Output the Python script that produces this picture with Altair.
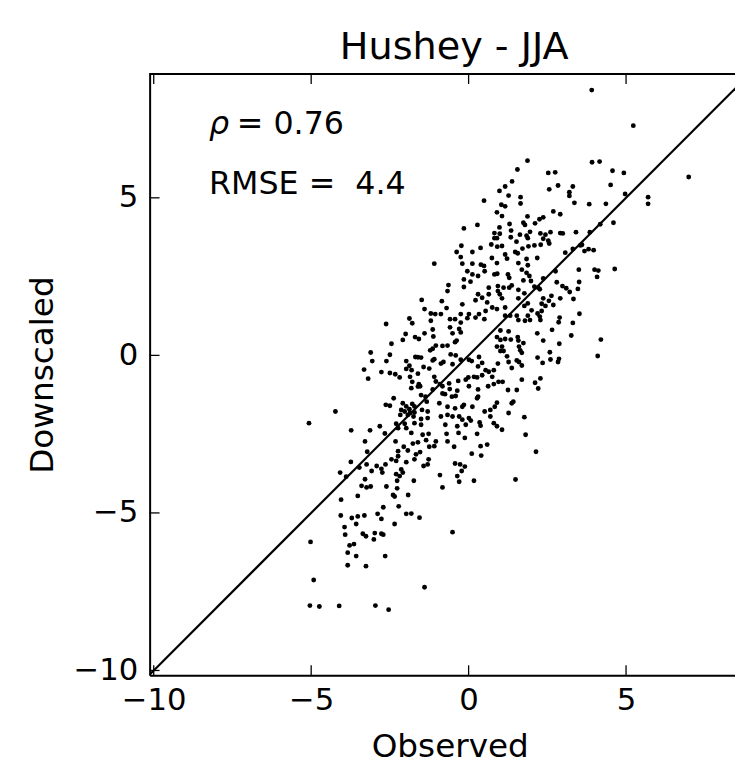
import altair as alt
import pandas as pd

# Observed (x) and Downscaled (y) values
obs = [
 0.49,-0.15,0.28,-0.23,-0.38,-0.25,0.12,0.38,0.72,0.82,0.82,0.74,
 3.91,5.23,6.99,1.87,1.55,3.92,4.16,2.53,2.75,4.57,4.93,1.38,0.98,1.16,1.27,2.84,2.56,3.31,3.2,3.2,
 4.51,4.97,5.70,5.70,1.65,1.65,3.36,3.83,4.36,1.04,1.16,0.90,1.06,2.69,2.91,1.87,2.37,2.25,0.98,1.30,
 1.74,1.79,2.11,4.18,4.60,3.85,3.41,2.91,2.99,2.6,2.28,2.44,1.95,1.35,0.99,0.90,1.34,1.63,1.84,1.88,
 2.37,2.53,2.56,2.29,2.09,1.9,1.52,1.06,0.91,1.71,1.48,1.56,1.16,1.22,1.84,2.18,3.07,3.31,3.55,3.6,
 3.68,3.81,3.97,
 -1.09,-0.2,0.12,0.39,0.49,-0.04,0.12,0.3,0.51,0.82,-0.15,0.06,-0.64,-0.15,-0.67,0.64,0.3,0.64,0.43,
 0.22,0.59,-0.2,-1.49,-0.85,-1.4,-0.7,-1.2,-1.06,-0.88,-0.25,0.01,0.33,0.54,0.75,-1.88,-1.79,-1.2,
 -0.59,-0.43,-0.25,-0.04,0.22,0.5,-2.62,-2.0,-2.09,-1.7,-1.58,-1.4,-1.14,-1.12,-0.59,-0.3,-0.25,-0.51,
 -0.38,-0.43,-0.67,-0.83,-1.04,-1.14,-1.22,-2.45,-3.11,-2.5,-3.06,-2.61,-1.98,-1.69,-1.61,-1.51,-1.88,
 -1.98,-1.81,-1.43,-1.25,-1.14,-1.09,-0.88,-0.8,-0.57,-0.41,-0.25,0.01,0.1,-0.51,0.33,0.43,0.3,0.54,
 0.64,0.8,-3.32,-3.19,-2.77,-2.5,-2.33,-2.19,-1.86,-1.61,-1.79,-1.58,-1.82,-1.61,-1.54,-1.09,-1.04,
 -1.14,-0.91,-0.83,-0.62,-0.6,-0.36,-0.33,-0.09,-0.01,0.17,0.27,0.43,0.75,0.01,0.3,0.62,0.8,-0.83,
 -0.75,-0.53,-0.41,-1.51,-1.37,-1.33,-1.3,-2.38,-2.63,-2.5,-2.09,-1.98,-1.79,-1.72,-2.14,-2.03,-1.88,
 -1.86,-1.72,-1.93,-2.17,-1.75,-1.48,-1.72,-1.51,-1.3,-0.93,-0.67,-0.43,-0.2,-0.15,0.12,0.27,0.3,0.51,
 0.69,0.83,-0.88,-0.67,-0.51,-0.3,-0.2,0.01,0.07,0.35,0.69,-4.23,-5.07,-3.73,-3.13,-2.82,-2.66,-2.3,
 -2.24,-2.03,-1.98,-1.82,-1.51,-1.46,-1.27,-0.74,-0.7,-0.36,-0.32,-0.09,0.27,0.38,0.8,-0.12,
 0.9,1.58,1.88,1.69,1.84,1.93,0.91,1.25,1.29,0.93,1.11,1.37,1.29,1.74,1.98,2.37,2.76,2.8,3.5,4.0,4.12,
 4.08,4.64,2.98,3.1,3.21,3.51,3.47,3.33,3.52,3.31,3.26,4.2,4.1,2.89,2.86,2.91,2.63,2.55,2.69,2.44,
 2.32,2.37,2.21,2.09,2.26,0.93,0.99,1.06,1.58,1.77,1.58,1.88,1.77,2.0,1.16,0.9,1.32,1.53,1.58,1.79,
 1.95,1.88,2.19,2.26,2.28,2.32,1.16,1.01,1.27,0.9,1.01,1.16,1.34,1.56,1.58,1.74,2.18,2.37,2.65,2.88,
 0.9,1.06,1.01,1.11,1.6,1.64,1.69,1.22,0.93,1.27,1.37,1.53,1.6,1.69,2.19,2.35,2.58,2.6,2.84,2.87,
 1.69,0.95,1.08,2.28,2.11,2.21,1.25,1.53,0.9,1.37,1.42,1.27,1.77,0.9,1.06,1.81,
 -3.29,-2.32,-1.77,-1.61,-1.35,-1.04,-0.67,-0.46,0.38,0.59,-3.22,-2.24,-2.06,-1.93,-1.67,-1.54,-1.25,
 -1.09,0.1,0.4,-3.74,-4.08,-3.89,-3.47,-3.24,-3.08,-2.92,-2.77,-2.64,-2.74,-2.45,-2.3,-2.24,-1.98,
 -2.14,-2.09,-2.3,-2.19,-1.72,-1.43,-1.27,-1.3,-0.91,-0.83,-0.43,-0.27,-0.12,-0.22,-0.36,-0.3,0.17,
 -3.29,-3.4,-3.24,-3.11,-2.61,-2.27,-2.27,-2.4,-2.35,-1.74,-1.92,-4.05,-3.52,-2.71,-2.22,-4.06,-3.71,
 -3.52,-3.31,-2.89,-2.77,-1.98,-1.82,-1.56,-3.57,-2.35,-3.94,-3.92,-3.36,-3.26,-3.01,-2.98,-2.77,
 -2.71,-5.02,-3.78,-3.64,-0.51,-3.84,-3.57,-3.84,-3.26,-2.65,-4.92,-1.4,-5.04,-4.74,-4.11,-2.96,-2.54,
 2.14,1.49,
]
down = [
 4.91,4.03,4.14,3.48,3.28,3.12,3.28,3.41,3.52,3.72,3.88,3.09,
 8.42,7.29,5.66,6.18,5.9,6.13,6.15,5.79,5.81,5.86,5.79,5.52,5.22,5.36,5.07,5.39,5.27,5.36,5.18,5.06,
 5.41,5.12,5.02,4.81,5.02,4.82,4.84,4.80,4.81,4.78,4.73,4.54,4.42,4.57,4.48,4.41,4.38,4.32,4.06,4.17,
 4.21,4.14,4.19,4.16,4.21,3.91,3.91,3.88,3.87,3.91,3.87,3.83,3.92,3.96,3.86,3.72,3.75,3.83,3.8,3.72,
 3.70,3.64,3.55,3.51,3.49,3.46,3.61,3.47,3.45,3.39,3.28,3.24,3.2,3.07,3.06,3.09,3.26,3.38,3.49,3.51,
 3.31,3.37,3.34,
 2.91,2.91,2.91,2.88,2.84,2.67,2.57,2.52,2.67,2.57,2.41,2.34,2.23,2.17,2.04,2.15,1.94,1.94,1.83,
 1.75,1.68,1.62,1.76,1.72,1.47,1.5,1.33,1.31,1.31,1.31,1.31,1.31,1.41,1.52,1.17,1.02,1.1,
 1.15,1.15,1.04,1.18,1.2,1.15,0.995,0.68,0.49,0.58,0.52,0.7,0.82,0.6,0.89,0.84,0.73,0.7,
 0.47,0.42,0.31,0.3,0.31,0.21,0.16,0.37,0.09,0.02,-0.18,-0.18,-0.18,-0.05,-0.06,-0.07,-0.33,
 -0.43,-0.47,-0.37,-0.42,-0.16,-0.12,-0.26,-0.21,0.03,0.0,-0.14,-0.14,-0.18,-0.28,-0.05,-0.24,-0.35,-0.47,
 -0.52,-0.47,-0.45,-0.74,-0.53,-0.56,-0.6,-0.7,-0.68,-0.58,-0.84,-0.91,-1.04,-0.99,-0.98,-0.68,-0.83,
 -1.08,-0.91,-0.98,-0.89,-1.07,-1.12,-0.81,-0.77,-0.7,-0.68,-0.7,-0.63,-0.68,-0.98,-1.08,-0.98,-0.91,-1.21,
 -1.23,-1.31,-1.29,-1.26,-1.31,-1.47,-1.78,-1.36,-1.57,-1.6,-1.52,-1.62,-1.54,-1.62,-1.73,-1.78,-1.71,
 -1.83,-1.81,-1.89,-1.89,-1.94,-1.73,-2.15,-2.02,-1.99,-1.52,-1.63,-1.68,-1.63,-1.57,-1.63,-1.36,-1.31,-1.78,
 -1.73,-1.63,-1.94,-1.89,-1.94,-1.94,-2.04,-1.99,-2.07,-2.13,-1.94,-1.78,-2.15,-2.38,-2.38,-2.25,-2.48,-2.17,
 -2.31,-2.17,-2.31,-2.46,-2.2,-2.52,-2.49,-2.2,-2.49,-2.25,-2.46,-2.2,-2.49,-2.23,-2.15,-2.62,
 2.93,2.93,2.86,2.72,2.62,2.52,2.59,2.57,2.46,2.20,2.15,2.22,2.15,2.38,2.36,2.44,2.67,2.32,2.72,2.72,2.69,
 2.49,2.74,2.2,2.13,2.01,2.33,2.11,1.79,1.32,1.03,0.63,0.5,-0.02,1.2,1.05,1.81,1.89,1.73,1.60,1.57,
 1.64,1.81,2.15,2.18,2.1,2.04,1.94,1.81,2.08,1.97,1.81,1.65,1.57,1.43,1.52,1.47,1.26,1.26,1.12,1.10,
 1.12,1.26,1.33,1.23,1.12,1.41,1.26,0.79,0.76,0.58,0.49,0.52,0.5,0.58,0.47,0.39,0.7,0.47,0.81,0.37,
 0.28,0.28,0.14,0.14,0.28,0.16,0.08,-0.03,-0.26,-0.21,-0.40,-0.16,-0.21,-0.32,-0.07,-0.24,0.1,-0.13,-0.21,-0.11,
 -0.77,-0.84,-0.84,-0.73,-0.87,-1.05,-1.1,-1.1,-1.5,-1.52,-1.47,-1.83,-1.96,-2.25,-2.36,-2.52,
 -2.73,-2.73,-2.8,-2.76,-2.69,-2.73,-2.73,-2.9,-2.88,-2.83,-3.06,-3.04,-2.9,-3.02,-3.14,-3.07,-2.9,
 -2.88,-3.12,-3.18,-3.38,-3.72,-3.85,-3.56,-3.46,-3.67,-3.51,-3.6,-3.46,-3.72,-3.3,-3.35,-3.2,-3.39,
 -3.62,-3.72,-3.77,-3.83,-3.3,-3.51,-3.3,-3.46,-3.8,-4.19,-3.43,-3.46,-3.53,-3.67,-3.83,-4.01,-3.98,
 -3.93,-4.14,-4.19,-4.16,-4.16,-3.98,-4.22,-4.43,-4.48,-3.98,-4.43,-4.58,-4.46,-4.82,-4.79,-5.08,-5.16,
 -5.11,-5.08,-5.03,-5.19,-5.03,-5.02,-5.15,-5.35,-5.35,-5.45,-5.69,-5.66,-5.74,-5.84,-5.64,-5.66,
 -5.69,-5.92,-6.03,-5.99,-5.61,-6.26,-6.37,-6.66,-6.69,-6.37,-7.13,-7.36,-7.94,-7.97,-7.95,-7.94,-8.07,
 -3.06,-3.94,
]

x_domain = [-10.13, 8.46]
y_domain = [-10.15, 8.93]
tick_values = [-10, -5, 0, 5]
title_text = "Hushey - JJA"
x_title = "Observed"
y_title = "Downscaled"
rho_label = "ρ"
rho_value = "= 0.76"
rmse_label = "RMSE = \u00a04.4"

W, H = 591, 607
FONT = "DejaVu Sans"

n = min(len(obs), len(down))
df = pd.DataFrame({"obs": obs[:n], "down": down[:n]})
ticks_df = pd.DataFrame({"t": tick_values})
line_df = pd.DataFrame({"v": [-10.5, 9.5]})

xs = alt.Scale(domain=x_domain, nice=False, zero=False)
ys = alt.Scale(domain=y_domain, nice=False, zero=False)

x_axis = alt.Axis(values=tick_values, format="d", grid=False, ticks=False, tickSize=0,
                  domainColor="black", domainWidth=2, labelFont=FONT, labelFontSize=31,
                  labelColor="black", labelPadding=11, labelFlush=False,
                  title=x_title, titleFont=FONT, titleFontSize=33, titleFontWeight="normal",
                  titleColor="black", titlePadding=15, titleX=303)
y_axis = alt.Axis(values=tick_values, format="d", grid=False, ticks=False, tickSize=0,
                  domainColor="black", domainWidth=2, labelFont=FONT, labelFontSize=31,
                  labelColor="black", labelPadding=12, labelFlush=False,
                  title=y_title, titleFont=FONT, titleFontSize=33, titleFontWeight="normal",
                  titleColor="black", titlePadding=14)

points = alt.Chart(df).mark_circle(size=24, color="black", opacity=1).encode(
    x=alt.X("obs:Q", scale=xs, axis=x_axis),
    y=alt.Y("down:Q", scale=ys, axis=y_axis),
)

diag = alt.Chart(line_df).mark_line(color="black", strokeWidth=2.2, clip=True).encode(
    x=alt.X("v:Q", scale=xs), y=alt.Y("v:Q", scale=ys)
)

top_border = alt.Chart(ticks_df).mark_rule(color="black", strokeWidth=2).encode(
    x=alt.value(0), x2=alt.value(W), y=alt.value(0)
)

tick_bottom = alt.Chart(ticks_df).mark_rule(color="black", strokeWidth=1.3).encode(
    x=alt.X("t:Q", scale=xs), y=alt.value(H), y2=alt.value(H - 10)
)
tick_top = alt.Chart(ticks_df).mark_rule(color="black", strokeWidth=1.3).encode(
    x=alt.X("t:Q", scale=xs), y=alt.value(0), y2=alt.value(10)
)
tick_left = alt.Chart(ticks_df).mark_rule(color="black", strokeWidth=1.3).encode(
    y=alt.Y("t:Q", scale=ys), x=alt.value(0), x2=alt.value(10)
)

ann_df = pd.DataFrame({"a": [0]})
rho_t = alt.Chart(ann_df).mark_text(align="left", baseline="alphabetic", font=FONT, fontSize=32,
                                    fontStyle="italic", color="black", text=rho_label).encode(
    x=alt.value(60), y=alt.value(61))
rho_v = alt.Chart(ann_df).mark_text(align="left", baseline="alphabetic", font=FONT, fontSize=32,
                                    color="black", text=rho_value).encode(
    x=alt.value(88), y=alt.value(61))
rmse_t = alt.Chart(ann_df).mark_text(align="left", baseline="alphabetic", font=FONT, fontSize=32,
                                     color="black", text=rmse_label).encode(
    x=alt.value(60), y=alt.value(121))

chart = alt.layer(
    diag, points, top_border, tick_bottom, tick_top, tick_left, rho_t, rho_v, rmse_t
).properties(
    width=W, height=H,
    title=alt.TitleParams(title_text, font=FONT, fontSize=38.5, fontWeight="normal",
                          color="black", anchor="middle", dx=12, offset=6),
    autosize=alt.AutoSizeParams(type="none"),
    padding={"left": 143, "top": 63, "right": 0, "bottom": 84},
).configure_view(stroke=None).configure(background="white")

chart.save("out.html", embed_options={"renderer": "svg", "actions": False})
